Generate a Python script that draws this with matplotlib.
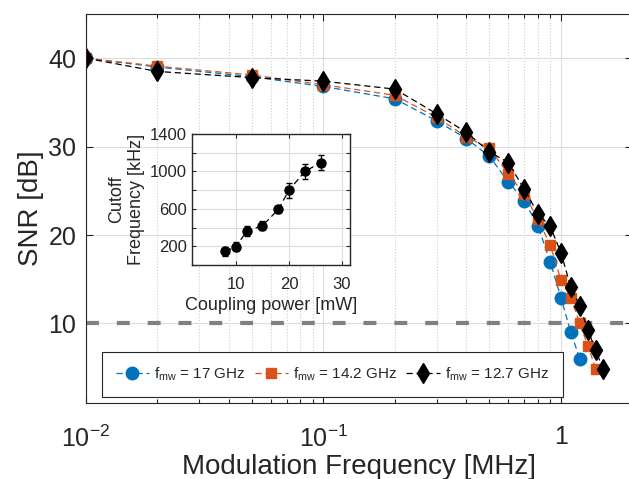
import matplotlib
matplotlib.use("Agg")
import matplotlib.pyplot as plt
from matplotlib.ticker import FixedLocator, FixedFormatter, NullFormatter

plt.rcParams['font.family'] = ['Liberation Sans', 'DejaVu Sans']
plt.rcParams['mathtext.fontset'] = 'custom'
plt.rcParams['mathtext.rm'] = 'Liberation Sans'
plt.rcParams['mathtext.it'] = 'Liberation Sans:italic'
plt.rcParams['text.color'] = '#262626'
plt.rcParams['axes.labelcolor'] = '#262626'
plt.rcParams['xtick.color'] = '#262626'
plt.rcParams['ytick.color'] = '#262626'

# modulation frequency [MHz]
freq = [0.01, 0.02, 0.05, 0.1, 0.2, 0.3, 0.4, 0.5, 0.6, 0.7, 0.8, 0.9,
        1.0, 1.1, 1.2, 1.3, 1.4, 1.5]
snr_17 = [40, 39.0, 37.9, 36.8, 35.4, 32.9, 30.9, 28.9, 26.0, 23.9, 21.0,
          17.0, 12.9, 9.0, 6.0]
snr_142 = [40, 39.1, 38.1, 37.0, 35.8, 33.3, 31.1, 29.8, 26.9, 24.6, 21.8,
           18.9, 14.9, 12.9, 10.0, 7.4, 4.9]
snr_127 = [40, 38.5, 37.8, 37.4, 36.5, 33.7, 31.6, 29.4, 28.2, 25.2, 22.4,
           21.0, 18.0, 14.1, 12.0, 9.2, 7.0, 4.9]
labels = [r'f$_{\rm mw}$ = 17 GHz', r'f$_{\rm mw}$ = 14.2 GHz',
          r'f$_{\rm mw}$ = 12.7 GHz']
threshold = 10

# inset: cutoff vs coupling power
power = [8, 10, 12, 15, 18, 20, 23, 26]
cutoff = [145, 195, 360, 420, 595, 800, 1000, 1095]
cutoff_err = [50, 50, 55, 50, 40, 80, 80, 80]

fig = plt.figure(figsize=(6.29, 4.79), dpi=100)
ax = fig.add_axes([0.1367, 0.1587, 0.8688, 0.8121])

ax.plot(freq[:len(snr_17)], snr_17, '--o', color='#0072BD', lw=0.9,
        ms=9, dashes=(5, 3), label=labels[0])
ax.plot(freq[:len(snr_142)], snr_142, '--s', color='#D95319', lw=0.9,
        ms=7.5, dashes=(5, 3), label=labels[1])
ax.plot(freq[:len(snr_127)], snr_127, '--d', color='black', lw=0.9,
        ms=10, dashes=(5, 3), label=labels[2])
ax.axhline(threshold, color='#808080', lw=3, dashes=(3.1, 4.3), zorder=1)

ax.set_xscale('log')
ax.set_xlim(0.01, 2)
ax.set_ylim(1, 45)
ax.xaxis.set_major_locator(FixedLocator([0.01, 0.1, 1]))
ax.xaxis.set_major_formatter(FixedFormatter([r'$10^{-2}$', r'$10^{-1}$', '1']))
minor = [m * d for d in (0.01, 0.1) for m in range(2, 10)]
ax.xaxis.set_minor_locator(FixedLocator(minor))
ax.xaxis.set_minor_formatter(NullFormatter())
ax.set_yticks([10, 20, 30, 40])
ax.grid(which='major', color='#dcdcdc', lw=0.8)
ax.grid(which='minor', axis='x', color='#cccccc', lw=0.8, ls=':')
ax.set_axisbelow(True)
ax.tick_params(which='both', direction='in', top=True, right=True,
               labelsize=18, width=0.8)
ax.tick_params(axis='x', pad=16)
ax.tick_params(axis='y', pad=7)
ax.tick_params(which='major', length=5)
ax.tick_params(which='minor', length=3)
for s in ax.spines.values():
    s.set_color('#262626')
    s.set_linewidth(0.8)

ax.set_xlabel('Modulation Frequency [MHz]', fontsize=20, labelpad=2)
ax.set_ylabel('SNR [dB]', fontsize=20, labelpad=3)

leg = ax.legend(loc='lower left', bbox_to_anchor=(0.029, 0.0154), ncol=3,
                fontsize=11, borderaxespad=0, fancybox=False,
                edgecolor='#262626', framealpha=1, handlelength=2.2,
                columnspacing=0.6, handletextpad=0.3, borderpad=0.9)
leg.get_frame().set_linewidth(0.8)

# inset
ins = fig.add_axes([0.3052, 0.4468, 0.2512, 0.2735])
ins.errorbar(power, cutoff, yerr=cutoff_err, fmt='--o', color='black',
             ms=6.5, lw=0.9, dashes=(5, 3), capsize=2, elinewidth=0.9)
ins.set_xlim(1.7, 31.5)
ins.set_ylim(0, 1400)
ins.set_xticks([10, 20, 30])
ins.set_yticks(range(0, 1401, 200))
ins.set_yticklabels(['', '200', '', '600', '', '1000', '', '1400'])
ins.grid(color='#dcdcdc', lw=0.8)
ins.set_axisbelow(True)
ins.tick_params(direction='in', top=True, right=True, labelsize=12,
                length=3, width=0.8)
ins.tick_params(axis='x', pad=9)
for s in ins.spines.values():
    s.set_color('#262626')
    s.set_linewidth(1.0)
ins.set_xlabel('Coupling power [mW]', fontsize=13, labelpad=3)
ins.set_ylabel('Cutoff\nFrequency [kHz]', fontsize=13, labelpad=4)

fig.savefig('out.png', dpi=100)
